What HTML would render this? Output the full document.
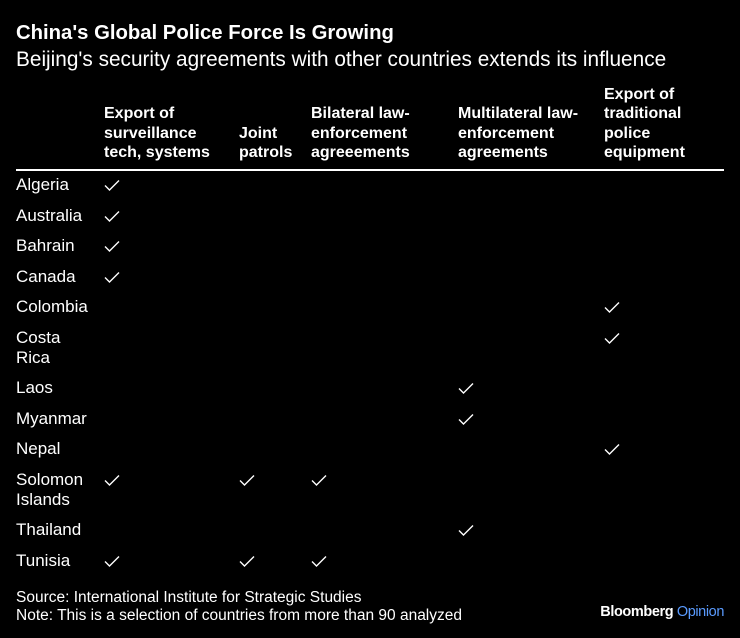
<!DOCTYPE html>
<html><head><meta charset="utf-8"><style>
body{margin:0;width:740px;height:638px;background:#000;color:#fff;font-family:"Liberation Sans",sans-serif;position:relative;overflow:hidden}
.a{position:absolute;white-space:nowrap}
.t{left:16px;top:22px;font-size:20.3px;font-weight:bold}
.s{left:16px;top:48px;font-size:20.8px}
.h{font-size:16px;font-weight:bold;line-height:19.5px}
.c{font-size:17px;line-height:20px;left:16px}
.ft{font-size:15.5px;left:16px}
svg.k{position:absolute;width:16px;height:13px}
</style></head><body>
<div class="a t">China's Global Police Force Is Growing</div>
<div class="a s">Beijing's security agreements with other countries extends its influence</div>
<div class="a h" style="left:104px;top:104px">Export of<br>surveillance<br>tech, systems</div>
<div class="a h" style="left:239px;top:123.5px">Joint<br>patrols</div>
<div class="a h" style="left:311px;top:104px">Bilateral law-<br>enforcement<br>agreeements</div>
<div class="a h" style="left:458px;top:104px">Multilateral law-<br>enforcement<br>agreements</div>
<div class="a h" style="left:604px;top:84.5px">Export of<br>traditional<br>police<br>equipment</div>
<div class="a" style="left:16px;top:169px;width:708px;height:2px;background:#fff"></div>
<div id="rows"></div>
<div class="a ft" style="top:589px">Source: International Institute for Strategic Studies</div>
<div class="a ft" style="top:607px">Note: This is a selection of countries from more than 90 analyzed</div>
<div class="a" style="right:16px;top:604px;font-size:14.5px;font-weight:bold;letter-spacing:-0.4px">Bloomberg <span style="color:#5a9bff;font-weight:normal">Opinion</span></div>
<script>
const countries=["Algeria","Australia","Bahrain","Canada","Colombia","Costa<br>Rica","Laos","Myanmar","Nepal","Solomon<br>Islands","Thailand","Tunisia"];
const checks=[[1,0,0,0,0],[1,0,0,0,0],[1,0,0,0,0],[1,0,0,0,0],[0,0,0,0,1],[0,0,0,0,1],[0,0,0,1,0],[0,0,0,1,0],[0,0,0,0,1],[1,1,1,0,0],[0,0,0,1,0],[1,1,1,0,0]];
const colX=[104,239,311,458,604];
const root=document.getElementById('rows');
let y=175;
countries.forEach((c,i)=>{
  const d=document.createElement('div');
  d.className='a c';d.style.top=y+'px';d.innerHTML=c;
  
  
  root.appendChild(d);
  checks[i].forEach((v,j)=>{
    if(!v)return;
    const s=document.createElementNS('http://www.w3.org/2000/svg','svg');
    s.setAttribute('class','k');s.setAttribute('viewBox','0 0 16 13');
    s.style.left=colX[j]+'px';s.style.top=(y+4)+'px';
    s.innerHTML='<polyline points="1,6.5 5.5,11 15,1.5" fill="none" stroke="#fff" stroke-width="1.4"/>';
    
    
    root.appendChild(s);
  });
  y+=c.includes('<br>')?50.5:30.5;
});
</script>
</body></html>
